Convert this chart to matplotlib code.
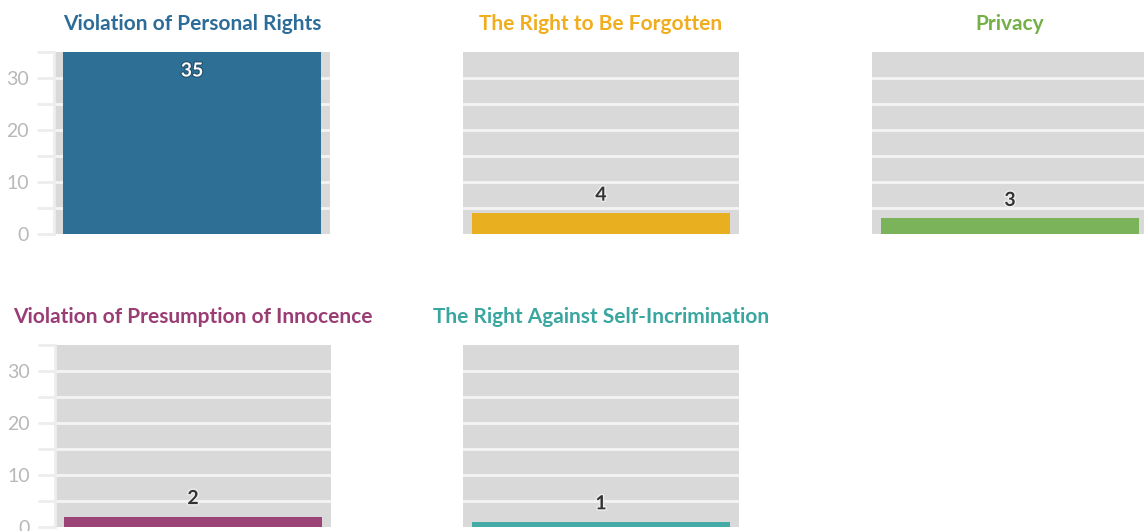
import matplotlib.pyplot as plt
from matplotlib import patheffects as pe

# Data
categories = ["Violation of Personal Rights", "The Right to Be Forgotten", "Privacy",
              "Violation of Presumption of Innocence", "The Right Against Self-Incrimination"]
values = [35, 4, 3, 2, 1]
bar_colors = ["#2e6f96", "#e8b021", "#7bb35a", "#9c4378", "#45aba6"]
title_colors = ["#2d6c98", "#f0ad1e", "#74b047", "#9a3d74", "#3aa6a0"]
yticks = [0, 10, 20, 30]

plt.rcParams['font.family'] = ['Lato', 'DejaVu Sans']

fig = plt.figure(figsize=(11.44, 5.31), dpi=100)

W, H = 1144, 531
# panel positions in pixels: left, top
panels = [(54, 52), (463, 52), (872, 52), (55, 345), (463, 345)]
pw, ph = 276, 182

for i, (cat, val) in enumerate(zip(categories, values)):
    left, top = panels[i]
    ax = fig.add_axes([left / W, (H - top - ph) / H, pw / W, ph / H])
    ax.set_facecolor("#d9d9d9")
    ax.set_xlim(-0.5, 0.5)
    ax.set_ylim(0, 35)
    for y in range(5, 35, 5):
        ax.axhline(y, color="#f4f4f4", lw=2, zorder=1)
    ax.bar(0, val, width=0.935, color=bar_colors[i], zorder=2)

    for s in ax.spines.values():
        s.set_visible(False)
    ax.set_xticks([])
    if left < 100:
        ax.spines['left'].set_visible(True)
        ax.spines['left'].set_color("#ededed")
        ax.spines['left'].set_linewidth(2)
        ax.set_yticks(range(0, 36, 5))
        ax.set_yticklabels([str(t) if t in yticks else "" for t in range(0, 36, 5)])
        ax.tick_params(axis='y', length=12, width=2, color="#ededed",
                       labelcolor="#b8b8b8", labelsize=14, pad=6)
    else:
        ax.set_yticks([])

    ax.text(0.5, 1.0 + 28 / ph, cat, transform=ax.transAxes, ha='center', va='center',
            fontsize=15, fontweight='bold', color=title_colors[i])

    if val > 20:
        ax.annotate(str(val), (0, val), xytext=(0, -19), textcoords='offset pixels',
                    ha='center', va='center', fontsize=14, fontweight='bold', color='white',
                    path_effects=[pe.withStroke(linewidth=1.5, foreground="#1d4a66")], zorder=3)
    else:
        ax.annotate(str(val), (0, val), xytext=(0, 18), textcoords='offset pixels',
                    ha='center', va='center', fontsize=14, fontweight='bold', color='#333333',
                    path_effects=[pe.withStroke(linewidth=2, foreground="#eeeeee")], zorder=3)

fig.savefig("out.png", dpi=100)
